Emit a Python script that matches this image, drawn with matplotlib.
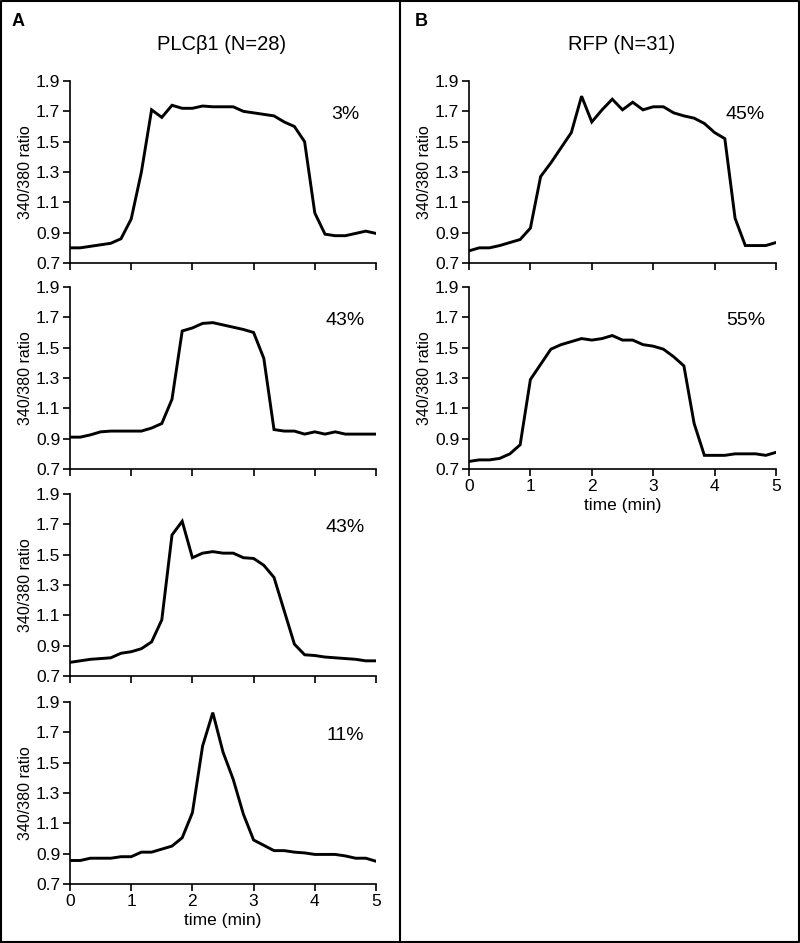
import numpy as np
import matplotlib
matplotlib.use("Agg")
import matplotlib.pyplot as plt
from matplotlib.lines import Line2D

plt.rcParams['font.family'] = ['Liberation Sans', 'DejaVu Sans']

# time points every 10 s over 5 min
time_min = np.arange(31) / 6

plc_sustained = [0.80, 0.80, 0.81, 0.82, 0.83, 0.86, 0.99, 1.30, 1.71, 1.66,
                 1.74, 1.72, 1.72, 1.735, 1.73, 1.73, 1.73, 1.70, 1.69, 1.68,
                 1.67, 1.63, 1.60, 1.50, 1.03, 0.89, 0.88, 0.88, 0.895, 0.91, 0.895]
plc_plateau = [0.91, 0.91, 0.925, 0.945, 0.95, 0.95, 0.95, 0.95, 0.97, 1.00,
               1.16, 1.61, 1.63, 1.66, 1.665, 1.65, 1.635, 1.62, 1.60, 1.43,
               0.96, 0.95, 0.95, 0.93, 0.945, 0.93, 0.945, 0.93, 0.93, 0.93, 0.93]
plc_spike_plateau = [0.79, 0.80, 0.81, 0.815, 0.82, 0.85, 0.86, 0.88, 0.925, 1.07,
                     1.63, 1.72, 1.48, 1.51, 1.52, 1.51, 1.51, 1.48, 1.475, 1.43,
                     1.35, 1.13, 0.91, 0.84, 0.835, 0.825, 0.82, 0.815, 0.81, 0.80, 0.80]
plc_transient = [0.855, 0.855, 0.87, 0.87, 0.87, 0.88, 0.88, 0.91, 0.91, 0.93,
                 0.95, 1.005, 1.17, 1.61, 1.83, 1.57, 1.39, 1.16, 0.99, 0.955,
                 0.92, 0.92, 0.91, 0.905, 0.895, 0.895, 0.895, 0.885, 0.87, 0.87, 0.85]
rfp_oscillating = [0.78, 0.80, 0.80, 0.815, 0.835, 0.855, 0.93, 1.27, 1.36, 1.46,
                   1.56, 1.80, 1.63, 1.71, 1.78, 1.71, 1.76, 1.71, 1.73, 1.73,
                   1.69, 1.67, 1.655, 1.62, 1.56, 1.52, 0.995, 0.815, 0.815, 0.815, 0.835]
rfp_plateau = [0.75, 0.76, 0.76, 0.77, 0.80, 0.86, 1.29, 1.39, 1.49, 1.52,
               1.54, 1.56, 1.55, 1.56, 1.58, 1.55, 1.55, 1.52, 1.51, 1.49,
               1.44, 1.38, 1.00, 0.79, 0.79, 0.79, 0.80, 0.80, 0.80, 0.79, 0.81]

plc_traces = [plc_sustained, plc_plateau, plc_spike_plateau, plc_transient]
plc_pcts = ['3%', '43%', '43%', '11%']
rfp_traces = [rfp_oscillating, rfp_plateau]
rfp_pcts = ['45%', '55%']

W, H = 800, 943
fig = plt.figure(figsize=(W / 100, H / 100), dpi=100)

row_tops = [81, 287, 494, 702]
ax_h = 182


def add_panel(left_px, top_px, width_px, trace, pct, show_x):
    ax = fig.add_axes([left_px / W, 1 - (top_px + ax_h) / H, width_px / W, ax_h / H])
    ax.plot(time_min, trace, color='black', lw=2.1, solid_joinstyle='miter')
    ax.set_xlim(0, 5)
    ax.set_ylim(0.7, 1.9)
    ax.set_yticks([0.7, 0.9, 1.1, 1.3, 1.5, 1.7, 1.9])
    ax.set_xticks(range(6))
    for s in ['top', 'right']:
        ax.spines[s].set_visible(False)
    for s in ['left', 'bottom']:
        ax.spines[s].set_linewidth(1.2)
    ax.tick_params(direction='out', length=5, width=1.2, labelsize=12.5, pad=2)
    ax.set_ylabel('340/380 ratio', fontsize=11.5, labelpad=2)
    if show_x:
        ax.set_xlabel('time (min)', fontsize=12.5, labelpad=3)
    else:
        ax.set_xticklabels([])
    ax.text(4.5, 1.68, pct, fontsize=14, ha='center', va='center')
    return ax


for i, (tr, pct) in enumerate(zip(plc_traces, plc_pcts)):
    add_panel(70, row_tops[i], 306, tr, pct, i == len(plc_traces) - 1)

for i, (tr, pct) in enumerate(zip(rfp_traces, rfp_pcts)):
    add_panel(469, row_tops[i], 307, tr, pct, i == len(rfp_traces) - 1)

fig.text(12 / W, 1 - 22 / H, 'A', fontsize=13, fontweight='bold', va='center')
fig.text(415 / W, 1 - 22 / H, 'B', fontsize=13, fontweight='bold', va='center')
fig.text(222 / W, 1 - 45 / H, 'PLCβ1 (N=28)', fontsize=14.5, ha='center', va='center')
fig.text(622 / W, 1 - 45 / H, 'RFP (N=31)', fontsize=14.5, ha='center', va='center')

# outer frame and divider
frame = dict(color='black', lw=1.5, transform=fig.transFigure)
fig.add_artist(Line2D([0.001, 0.999, 0.999, 0.001, 0.001],
                      [0.001, 0.001, 0.999, 0.999, 0.001], **frame))
fig.add_artist(Line2D([400 / W, 400 / W], [0, 1], **frame))

fig.savefig('out.png', dpi=100)
